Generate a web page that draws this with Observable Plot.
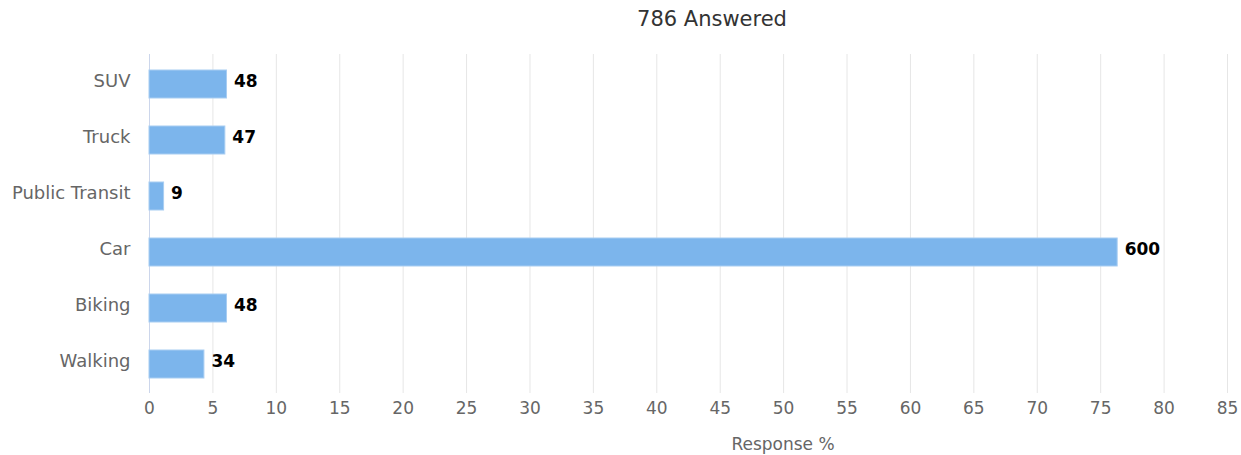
<!DOCTYPE html>
<html>
<head>
<meta charset="utf-8">
<script src="https://cdn.jsdelivr.net/npm/d3@7"></script>
<script src="https://cdn.jsdelivr.net/npm/@observablehq/plot@0.6"></script>
<style>
  html, body { margin: 0; padding: 0; background: #fff; }
  #wrap { position: relative; width: 1241px; height: 455px; font-family: "DejaVu Sans", sans-serif; }
  #title { position: absolute; left: 0; width: 1424px; top: 7px; text-align: center; font-size: 21px; color: #333; }
  #caption { position: absolute; left: 0; width: 1566px; top: 434px; text-align: center; font-size: 17px; color: #666; }
  #chart { position: absolute; left: 0; top: 40px; }
</style>
</head>
<body>
<div id="wrap">
  <div id="title">786 Answered</div>
  <div id="chart"></div>
  <div id="caption">Response %</div>
</div>
<script>
const categories = ["SUV", "Truck", "Public Transit", "Car", "Biking", "Walking"];
const counts = [48, 47, 9, 600, 48, 34];
const percents = [6.11, 5.98, 1.15, 76.34, 6.11, 4.33];
const xTicks = [0, 5, 10, 15, 20, 25, 30, 35, 40, 45, 50, 55, 60, 65, 70, 75, 80, 85];

const data = categories.map((c, i) => ({category: c, count: counts[i], pct: percents[i]}));

const chart = Plot.plot({
  width: 1241,
  height: 385,
  marginLeft: 149,
  marginRight: 14,
  marginTop: 14,
  marginBottom: 32,
  style: {fontFamily: "DejaVu Sans, sans-serif", fontSize: "16px", background: "white"},
  x: {domain: [0, 85], ticks: xTicks},
  y: {domain: categories, paddingInner: 0.5, paddingOuter: 0.25, label: null},
  marks: [
    Plot.gridX(xTicks, {stroke: "#e6e6e6", strokeOpacity: 1, strokeWidth: 1}),
    Plot.ruleX([0], {stroke: "#ccd6eb", strokeWidth: 1}),
    Plot.barX(data, {y: "category", x: "pct", fill: "#7cb5ec", stroke: "#a8cdf2", strokeWidth: 1}),
    Plot.text(data, {y: "category", x: "pct", text: d => String(d.count), textAnchor: "start", dx: 7, dy: -3,
      fontWeight: "bold", fontSize: 17, fill: "#000"}),
    Plot.axisX(xTicks, {tickSize: 0, tickPadding: 8, fill: "#666", fontSize: 17, label: null}),
    Plot.axisY({tickSize: 0, tickPadding: 19, dy: -3, fill: "#666", fontSize: 18, label: null})
  ]
});
document.getElementById("chart").appendChild(chart);
</script>
</body>
</html>
